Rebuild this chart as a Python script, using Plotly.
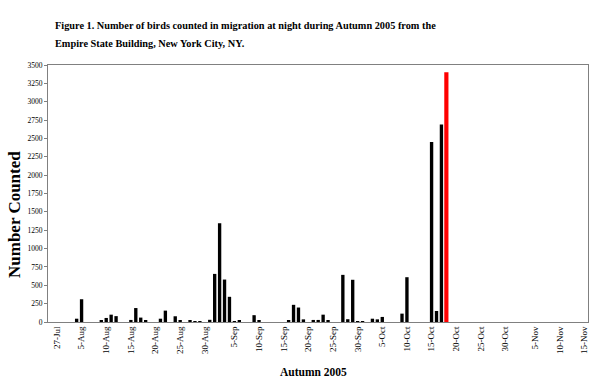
import plotly.graph_objects as go

# ---- data ----
dates = [
    "2005-08-04", "2005-08-05", "2005-08-09", "2005-08-10", "2005-08-11", "2005-08-12",
    "2005-08-15", "2005-08-16", "2005-08-17", "2005-08-18", "2005-08-21", "2005-08-22",
    "2005-08-24", "2005-08-25", "2005-08-27", "2005-08-28", "2005-08-29", "2005-08-31",
    "2005-09-01", "2005-09-02", "2005-09-03", "2005-09-04", "2005-09-05", "2005-09-06",
    "2005-09-09", "2005-09-10", "2005-09-16", "2005-09-17", "2005-09-18", "2005-09-19",
    "2005-09-21", "2005-09-22", "2005-09-23", "2005-09-24", "2005-09-27", "2005-09-28",
    "2005-09-29", "2005-09-30", "2005-10-01", "2005-10-03", "2005-10-04", "2005-10-05",
    "2005-10-09", "2005-10-10", "2005-10-15", "2005-10-16", "2005-10-17",
]
counts = [
    45, 310, 20, 55, 100, 80,
    28, 190, 60, 14, 45, 155,
    78, 18, 14, 10, 10, 30,
    655, 1345, 578, 343, 12, 16,
    93, 26, 26, 234, 197, 36,
    28, 28, 100, 18, 642, 38,
    575, 9, 9, 45, 36, 69,
    114, 610, 2450, 150, 2690,
]
highlight_dates = ["2005-10-18"]
highlight_counts = [3400]

tick_dates = [
    "2005-07-31", "2005-08-05", "2005-08-10", "2005-08-15", "2005-08-20", "2005-08-25",
    "2005-08-30", "2005-09-05", "2005-09-10", "2005-09-15", "2005-09-20", "2005-09-25",
    "2005-09-30", "2005-10-05", "2005-10-10", "2005-10-15", "2005-10-20", "2005-10-25",
    "2005-10-30", "2005-11-05", "2005-11-10", "2005-11-15",
]
tick_labels = [
    "27-Jul", "5-Aug", "10-Aug", "15-Aug", "20-Aug", "25-Aug",
    "30-Aug", "5-Sep", "10-Sep", "15-Sep", "20-Sep", "25-Sep",
    "30-Sep", "5-Oct", "10-Oct", "15-Oct", "20-Oct", "25-Oct",
    "30-Oct", "5-Nov", "10-Nov", "15-Nov",
]

# ---- layout geometry ----
W, H = 600, 390
ML, MR, MT, MB = 48, 12, 65, 68
PW, PH = W - ML - MR, H - MT - MB


def px_x(x):
    return (x - ML) / PW


def px_y(y):
    return (H - MB - y) / PH


SERIF = "Liberation Serif, Times New Roman, serif"
DAY_MS = 86400000

fig = go.Figure()
fig.add_trace(go.Bar(
    x=dates, y=counts, marker=dict(color="#000000", line=dict(width=0)),
    width=0.68 * DAY_MS, showlegend=False, hoverinfo="skip",
))
fig.add_trace(go.Bar(
    x=highlight_dates, y=highlight_counts, marker=dict(color="#FF0000", line=dict(width=0)),
    width=0.85 * DAY_MS, showlegend=False, hoverinfo="skip",
))

fig.update_layout(
    template="none",
    width=W, height=H,
    margin=dict(l=ML, r=MR, t=MT, b=MB, autoexpand=False),
    paper_bgcolor="white", plot_bgcolor="white",
    barmode="overlay",
    font=dict(family=SERIF, color="#000000"),
    xaxis=dict(
        type="date", automargin=False,
        range=["2005-07-29 04:34", "2005-11-15 17:31"],
        tickmode="array", tickvals=tick_dates, ticktext=tick_labels,
        tickangle=-90, tickfont=dict(size=9, family=SERIF, color="#000000"),
        showgrid=False, zeroline=False,
        showline=True, linecolor="#808080", linewidth=1, mirror=True,
        ticks="",
    ),
    yaxis=dict(
        automargin=False,
        range=[0, 3500], dtick=250, tick0=0,
        tickfont=dict(size=7.5, family=SERIF, color="#000000"),
        showgrid=False, zeroline=False,
        showline=True, linecolor="#808080", linewidth=1, mirror=True,
        ticks="outside", ticklen=3, tickcolor="#808080", tickwidth=1,
    ),
    annotations=[
        dict(text="<b>Figure 1. Number of birds counted in migration at night during Autumn 2005 from the</b>",
             xref="paper", yref="paper", x=px_x(53), y=px_y(25), xanchor="left", yanchor="middle",
             showarrow=False, font=dict(size=10.3, family=SERIF, color="#000000")),
        dict(text="<b>Empire State Building, New York City, NY.</b>",
             xref="paper", yref="paper", x=px_x(53), y=px_y(43), xanchor="left", yanchor="middle",
             showarrow=False, font=dict(size=10.3, family=SERIF, color="#000000")),
        dict(text="<b>Number Counted</b>", textangle=-90,
             xref="paper", yref="paper", x=px_x(15), y=px_y(215), xanchor="center", yanchor="middle",
             showarrow=False, font=dict(size=17, family=SERIF, color="#000000")),
        dict(text="<b>Autumn 2005</b>",
             xref="paper", yref="paper", x=px_x(313), y=px_y(372), xanchor="center", yanchor="middle",
             showarrow=False, font=dict(size=11.5, family=SERIF, color="#000000")),
    ],
)

fig.write_html("out.html", config={"displayModeBar": False},
               post_script="document.body.style.margin='0';")
